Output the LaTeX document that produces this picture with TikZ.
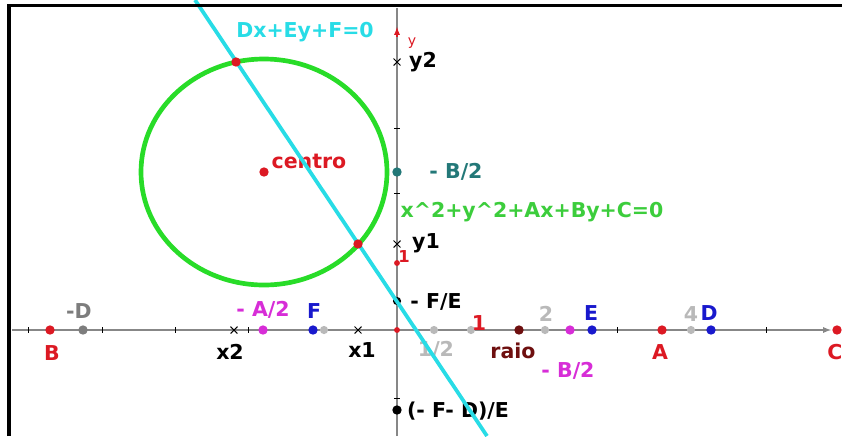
\documentclass[tikz,border=0pt]{standalone}
\usepackage{fontspec}
\setmainfont{DejaVu Sans}
\usepackage{xcolor}
\usepackage{tikz}
\usetikzlibrary{calc, positioning, shapes.misc}

\definecolor{ptred}{RGB}{220,25,35}
\definecolor{ptgray}{RGB}{125,125,125}
\definecolor{ltgray}{RGB}{185,185,185}
\definecolor{ptmag}{RGB}{215,45,215}
\definecolor{ptblue}{RGB}{25,25,205}
\definecolor{ptmaroon}{RGB}{110,15,15}
\definecolor{ptteal}{RGB}{35,120,120}
\definecolor{circgreen}{RGB}{40,220,40}
\definecolor{eqgreen}{RGB}{60,205,60}
\definecolor{lincyan}{RGB}{40,220,230}
\definecolor{axgray}{RGB}{135,135,135}

\begin{document}
\begin{tikzpicture}[>=latex, x=0.03cm, y=-0.03cm,
    lbl/.style={font=\bfseries\fontsize{17.5}{20}\selectfont, inner sep=0pt},
    dot/.style={circle, fill, inner sep=0pt, minimum size=8pt},
    gdot/.style={dot, ltgray, minimum size=7pt},
    xmk/.style={cross out, draw, inner sep=0pt, minimum size=5pt, line width=0.9pt}]
    \useasboundingbox (0,0) rectangle (842,436);

    % Trục tọa độ
    \draw[axgray, line width=1.3pt, ->] (12,330) -- (831,330);
    \draw[axgray, line width=1.3pt] (397,436) -- (397,8);
    \draw[ptred, line width=1.3pt, ->] (397,37) -- (397,27);
    \foreach \t in {28,102,175,248,617,766}
        \draw[line width=0.8pt] (\t,327) -- (\t,333);
    \foreach \t in {128,193,398}
        \draw[line width=0.8pt] (394,\t) -- (400,\t);

    % Các điểm trên trục x
    \node[dot, ptred] (B) at (50,330) {};
    \node[dot, ptgray] (mD) at (83,330) {};
    \node[xmk] (x2) at (234,330) {};
    \node[dot, ptmag] (mA2) at (263,330) {};
    \node[dot, ptblue] (F) at (313,330) {};
    \node[gdot] (mone) at (324,330) {};
    \node[xmk] (x1) at (358,330) {};
    \node[dot, ptred, minimum size=5pt] (O) at (397,330) {};
    \node[gdot] (half) at (434,330) {};
    \node[gdot] (one) at (471,330) {};
    \node[dot, ptmaroon] (raio) at (519,330) {};
    \node[gdot] (two) at (545,330) {};
    \node[dot, ptmag] (mB2x) at (570,330) {};
    \node[dot, ptblue] (E) at (592,330) {};
    \node[dot, ptred] (A) at (662,330) {};
    \node[gdot] (four) at (691,330) {};
    \node[dot, ptblue] (D) at (711,330) {};
    \node[dot, ptred] (C) at (837,330) {};

    % Các điểm trên trục y
    \node[xmk] (y2) at (397,62) {};
    \node[dot, ptteal] (mB2y) at (397,172) {};
    \node[xmk] (y1) at (397,244) {};
    \node[dot, ptred, minimum size=5pt] (yone) at (397,263) {};
    \node[dot, black, minimum size=7pt] (mFE) at (397,301) {};
    \node[dot, black] (mFDE) at (397,410) {};

    % Nhãn
    \node[lbl, ptred] (Blbl) at (52,353) {B};
    \node[lbl, ptgray] (mDlbl) at (79,311) {-D};
    \node[lbl] (x2lbl) at (230,352) {x2};
    \node[lbl, ptmag] (mA2lbl) at (263,310) {- A/2};
    \node[lbl, ptblue] (Flbl) at (314,311) {F};
    \node[lbl] (x1lbl) at (362,350) {x1};
    \node[lbl, ltgray] (halflbl) at (436,350) {1/2};
    \node[lbl, ptred] (onelbl) at (479,323) {1};
    \node[lbl, ptmaroon] (raiolbl) at (513,351) {raio};
    \node[lbl, ltgray] (twolbl) at (546,314) {2};
    \node[lbl, ptmag] (mB2xlbl) at (568,371) {- B/2};
    \node[lbl, ptblue] (Elbl) at (591,313) {E};
    \node[lbl, ptred] (Albl) at (660,352) {A};
    \node[lbl, ltgray] (fourlbl) at (691,314) {4};
    \node[lbl, ptblue] (Dlbl) at (709,313) {D};
    \node[lbl, ptred] (Clbl) at (835,352) {C};
    \node[lbl] (mFElbl) at (436,302) {- F/E};
    \node[lbl] (mFDElbl) at (458,411) {(- F- D)/E};
    \node[lbl, ptteal] (mB2ylbl) at (456,172) {- B/2};
    \node[lbl] (y1lbl) at (426,243) {y1};
    \node[lbl, ptred, font=\bfseries\fontsize{14}{16}\selectfont] (yonelbl) at (404,257) {1};
    \node[lbl] (y2lbl) at (423,62) {y2};
    \node[ptred, inner sep=0pt, font=\fontsize{12}{14}\selectfont] (ylbl) at (412,43) {y};
    \node[lbl, eqgreen] (circeq) at (532,212) {x\^{}2+y\^{}2+Ax+By+C=0};
    \node[lbl, lincyan] (lineeq) at (305,32) {Dx+Ey+F=0};
    \node[dot, ptred] (centro) at (264,172) {};
    \node[lbl, ptred] (centrolbl) at (309,161) {centro};

    % Đường tròn và đường thẳng
    \draw[circgreen, line width=4pt] (centro) ellipse [x radius=123, y radius=113];
    \draw[lincyan, line width=3.2pt] (195,0) -- (487,436);
    \node[dot, ptred] (P1) at (236,62) {};
    \node[dot, ptred] (P2) at (358,244) {};

    % Khung
    \draw[line width=3.4pt] (9,436) -- (9,5.5) -- (842,5.5);
\end{tikzpicture}
\end{document}
